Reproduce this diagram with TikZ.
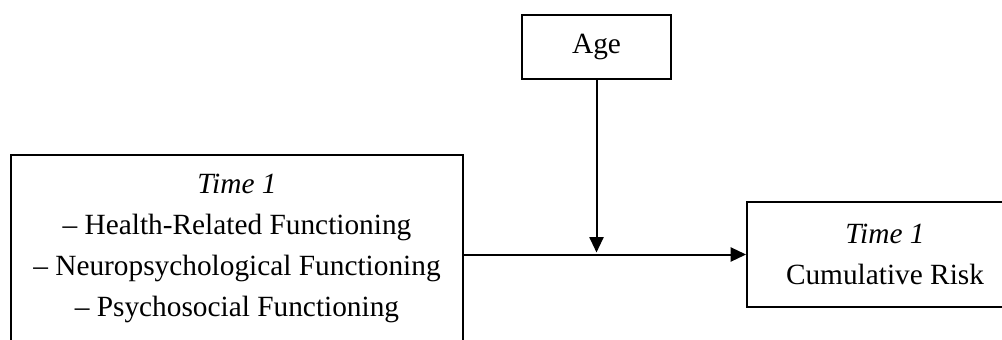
\documentclass[tikz,border=0pt]{standalone}
\usepackage{fontspec}
\setmainfont{Liberation Serif}
\usetikzlibrary{arrows.meta, calc}

\begin{document}
\begin{tikzpicture}[x=0.75pt, y=-0.75pt,
				>={Triangle[length=11.5pt, width=10.5pt]},   %arrow tips
				box/.style={draw, line width=1.4pt, align=center, inner sep=0pt},
				link/.style={->, line width=1.5pt},
				font=\fontsize{22}{30.75}\selectfont]
				%picture area
				\useasboundingbox (0,0) rectangle (1002,339);
				\clip (0,0) rectangle (1002,339);
				% boxes
				\node[box, minimum width=339pt, minimum height=139.5pt] (predictor) at (237,248)
					{\textit{Time 1}\\ -- Health-Related Functioning\\ -- Neuropsychological Functioning\\ -- Psychosocial Functioning};
				\node[box, minimum width=207pt, minimum height=78.75pt] (risk) at (885,254.5)
					{\textit{Time 1}\\ Cumulative Risk};
				\node[box, minimum width=111.75pt, minimum height=48pt] (age) at (596.5,47) {Age};
				% arrows
				\coordinate (meet) at ($(age.south |- risk.west)+(0,-2)$);
				\draw[link] (predictor.east |- risk.west) -- (risk.west);
				\draw[link] (age.south) -- (meet);
			\end{tikzpicture}
\end{document}
